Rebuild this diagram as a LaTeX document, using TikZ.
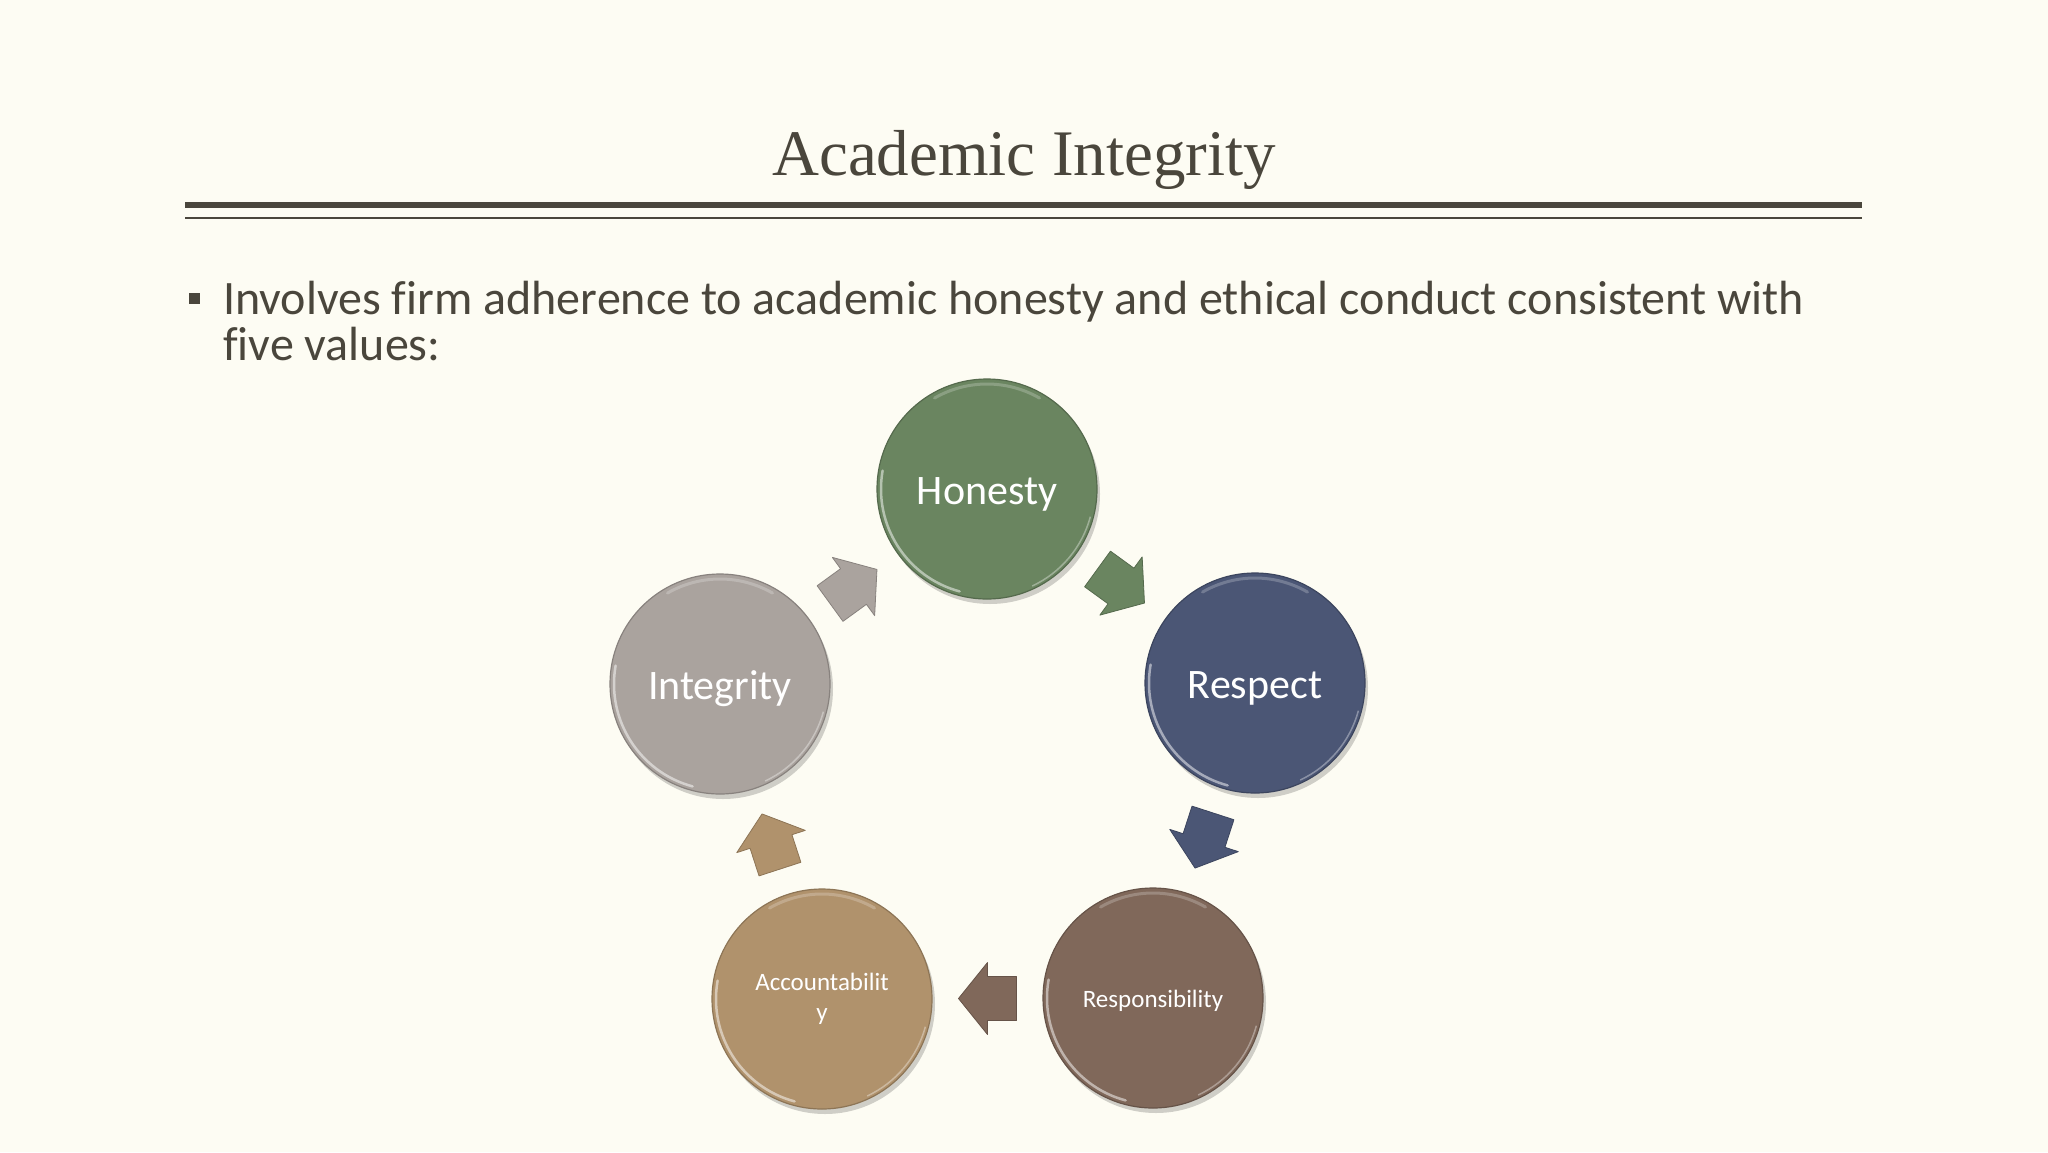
\documentclass[tikz,border=0pt]{standalone}
\usepackage{fontspec}
\setmainfont{Liberation Serif}
\newfontfamily\bodyfont[Ligatures=NoCommon]{Carlito}
\usetikzlibrary{calc,shadows}
\definecolor{bg}{HTML}{FDFCF3}
\definecolor{ink}{HTML}{4A463C}
\definecolor{honc}{HTML}{6A8560}
\definecolor{resc}{HTML}{4B5675}
\definecolor{rspc}{HTML}{80685A}
\definecolor{accc}{HTML}{B0926C}
\definecolor{intc}{HTML}{AAA39E}
\begin{document}
\begin{tikzpicture}[x=1pt,y=-1pt,
  valc/.style={circle, minimum size=220pt, inner sep=0pt, text=white,
    fill=#1, draw=#1!80!black, line width=1.2pt, align=center,
    drop shadow={shadow xshift=3pt, shadow yshift=-5pt, opacity=0.18, fill=black}},
  bigtext/.style={text=white, inner sep=0pt, font=\bodyfont\fontsize{42}{44}\selectfont},
  smalltext/.style={text=white, inner sep=0pt, align=center, font=\bodyfont\fontsize{25}{30}\selectfont},
  rim/.style={white, line width=2.5pt, opacity=0.5, line cap=round},
  toprim/.style={white, line width=3pt, opacity=0.22, line cap=round},
  blockarrow/.style={fill=#1, draw=#1!80!black, line width=0.8pt, line join=round}
]
\fill[bg] (0,0) rectangle (2048,1152);
\useasboundingbox (0,0) rectangle (2048,1152);

% title and rules
\node[anchor=base, text=ink, font=\fontsize{65}{70}\selectfont, inner sep=0pt] (title) at (1024,175) {Academic Integrity};
\coordinate (r1a) at (185,205); \coordinate (r1b) at (1862,205);
\coordinate (r2a) at (185,218); \coordinate (r2b) at (1862,218);
\draw[ink, line width=6pt] (r1a) -- (r1b);
\draw[ink, line width=1.8pt] (r2a) -- (r2b);

% bullet text
\node[fill=ink, minimum size=11pt, inner sep=0pt] (bullet) at (194,298) {};
\node[anchor=base west, text=ink, inner sep=0pt, font=\bodyfont\fontsize{48}{48}\selectfont] (body1) at (223,314)
  {Involves firm adherence to academic honesty and ethical conduct consistent with};
\node[anchor=base west, text=ink, inner sep=0pt, font=\bodyfont\fontsize{48}{48}\selectfont] (body2) at (223,360)
  {five values:};

% circles
\node[valc=honc, label={[bigtext, yshift=-5pt]center:Honesty}] (hon) at (987,489) {};
\node[valc=resc, label={[bigtext, yshift=-5pt]center:Respect}] (res) at (1255,683) {};
\node[valc=rspc, label={[smalltext, yshift=-3pt]center:Responsibility}] (rsp) at (1153,998) {};
\node[valc=accc, label={[smalltext]center:Accountabilit\\y}] (acc) at (822,999) {};
\node[valc=intc, label={[bigtext, yshift=-5pt]center:Integrity}] (int) at (720,684) {};

% gloss
\foreach \c in {hon,res,rsp,acc,int}{
  \draw[rim] ($(\c.center)+(105:106)$) arc[start angle=105, end angle=190, radius=106];
  \draw[toprim] ($(\c.center)+(240:105)$) arc[start angle=240, end angle=300, radius=105];
  \draw[white, line width=1.5pt, opacity=0.35] ($(\c.center)+(15:107)$) arc[start angle=15, end angle=65, radius=107];
}

% block arrows
\filldraw[blockarrow=honc, shift={($(hon)!0.5!(res)$)}, rotate=-36]
  (-29,-22) -- (0,-22) -- (0,-36) -- (29,0) -- (0,36) -- (0,22) -- (-29,22) -- cycle;
\filldraw[blockarrow=resc, shift={($(res)!0.5!(rsp)$)}, rotate=-108]
  (-29,-22) -- (0,-22) -- (0,-36) -- (29,0) -- (0,36) -- (0,22) -- (-29,22) -- cycle;
\filldraw[blockarrow=rspc, shift={($(rsp)!0.5!(acc)$)}, rotate=180]
  (-29,-22) -- (0,-22) -- (0,-36) -- (29,0) -- (0,36) -- (0,22) -- (-29,22) -- cycle;
\filldraw[blockarrow=accc, shift={($(acc)!0.5!(int)$)}, rotate=108]
  (-29,-22) -- (0,-22) -- (0,-36) -- (29,0) -- (0,36) -- (0,22) -- (-29,22) -- cycle;
\filldraw[blockarrow=intc, shift={($(int)!0.5!(hon)$)}, rotate=36]
  (-29,-22) -- (0,-22) -- (0,-36) -- (29,0) -- (0,36) -- (0,22) -- (-29,22) -- cycle;
\end{tikzpicture}
\end{document}
